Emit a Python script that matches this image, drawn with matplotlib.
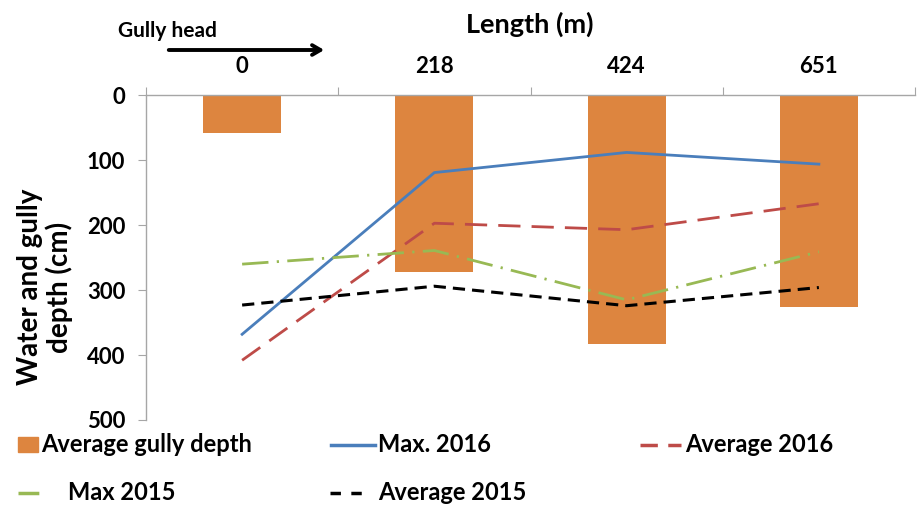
import matplotlib
matplotlib.use('Agg')
import matplotlib.pyplot as plt
from matplotlib.lines import Line2D
from matplotlib.patches import Patch
import numpy as np

plt.rcParams['font.family'] = ['Lato', 'DejaVu Sans']
plt.rcParams['font.weight'] = 'bold'

# distance along the gully (m) and depths (cm)
length_m = ['0', '218', '424', '651']
gully_depth = [58, 272, 383, 326]
max_2016 = [368, 119, 88, 106]
avg_2016 = [408, 197, 207, 167]
max_2015 = [260, 239, 315, 241]
avg_2015 = [323, 294, 324, 296]

ORANGE = '#dd853f'
BLUE = '#4a7ebb'
RED = '#be4b48'
GREEN = '#98b954'

W, H = 917, 507
fig = plt.figure(figsize=(W/100, H/100), dpi=100)
ax = fig.add_axes([146/W, 1-420/H, 769/W, (420-95.3)/H])

x = np.arange(len(length_m))
ax.bar(x, gully_depth, width=0.405, color=ORANGE, zorder=1)
ax.plot(x, max_2016, color=BLUE, lw=2.0, zorder=3)
ax.plot(x, avg_2016, color=RED, lw=2.0, dashes=(8, 4), zorder=3)
ax.plot(x, max_2015, color=GREEN, lw=2.0, dashes=(9.5, 3, 0.8, 3), zorder=3)
ax.plot(x, avg_2015, color='black', lw=2.2, dashes=(4, 2.3), zorder=3)

ax.set_ylim(500, 0)
ax.set_xlim(-0.5, 3.5)
ax.set_yticks(range(0, 501, 100))

# x axis along the top, ticks between categories, labels at centres
ax.xaxis.tick_top()
ax.set_xticks(np.arange(-0.5, 3.6, 1.0))
ax.set_xticklabels([])
ax.set_xticks(x, minor=True)
ax.set_xticklabels(length_m, minor=True)
ax.tick_params(axis='x', which='major', length=6, color='#a6a6a6', direction='out')
ax.tick_params(axis='x', which='minor', length=0, pad=13, labelsize=16)
ax.tick_params(axis='y', length=6, color='#a6a6a6', pad=9, labelsize=16)

for s in ['right', 'bottom']:
    ax.spines[s].set_visible(False)
for s in ['left', 'top']:
    ax.spines[s].set_color('#a6a6a6')
    ax.spines[s].set_linewidth(1.0)

fig.text(45/W, 1-287/H, 'Water and gully\ndepth (cm)', fontsize=20, fontweight='bold',
         rotation=90, ha='center', va='center', multialignment='center', linespacing=1.1)
fig.text(530/W, 1-24/H, 'Length (m)', fontsize=19.5, fontweight='bold', ha='center', va='center')
fig.text(118/W, 1-31/H, 'Gully head', fontsize=15, fontweight='bold', ha='left', va='center')
ax.annotate('', xy=(327/W, 1-50/H), xytext=(166/W, 1-50/H), xycoords='figure fraction',
            arrowprops=dict(arrowstyle='->,head_length=0.6,head_width=0.35', lw=2.8, color='black'))

# legend entries placed one by one below the plot
entries = [
    (Patch(color=ORANGE), 'Average gully depth', 18, 445, 0.85, 0.15),
    (Line2D([], [], color=BLUE, lw=2.5), 'Max. 2016', 331, 445, 1.85, 0.15),
    (Line2D([], [], color=RED, lw=2.5, dashes=(5, 3)), 'Average 2016', 640, 445, 1.75, 0.15),
    (Line2D([], [], color=GREEN, lw=2.5, dashes=(6, 3, 0.8, 3)), 'Max 2015', 18, 493, 1.2, 0.9),
    (Line2D([], [], color='black', lw=2.5, dashes=(3, 3)), 'Average 2015', 330, 493, 1.5, 0.55),
]
for h, lab, xpx, ypx, hl, tp in entries:
    fig.legend([h], [lab], loc='center left', bbox_to_anchor=(xpx/W, 1-ypx/H), frameon=False,
               fontsize=17, handlelength=hl, handleheight=0.6, handletextpad=tp,
               borderpad=0, borderaxespad=0)

fig.savefig('out.png', dpi=100)
